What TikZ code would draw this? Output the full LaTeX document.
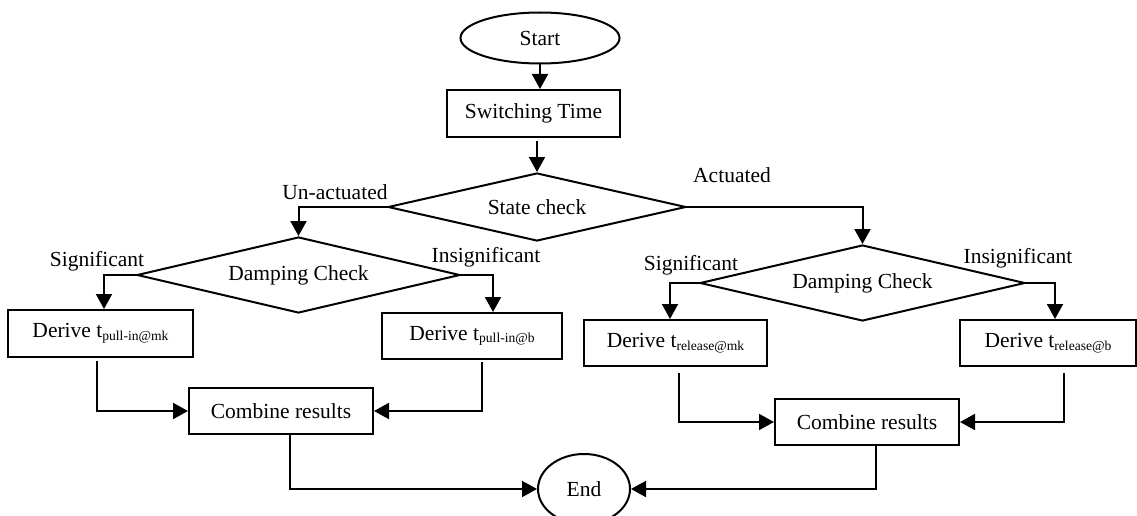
\documentclass[tikz,border=0pt]{standalone}
\usepackage{fontspec}
\setmainfont{Liberation Serif}
\usetikzlibrary{shapes.geometric,arrows.meta,calc}
\newcommand{\sbs}[1]{\raisebox{-2.5pt}{\fontsize{13.6}{14}\selectfont #1}}
\begin{document}
\begin{tikzpicture}[x=1pt,y=-1pt, line width=2pt,
  every node/.style={font=\fontsize{21.5}{24}\selectfont, inner sep=0pt},
  box/.style={draw, rectangle},
  dia/.style={draw, diamond, aspect=4.3},
  oval/.style={draw, ellipse},
  arr/.style={-{Triangle[length=15pt,width=16pt]}}]

\useasboundingbox (0,0) rectangle (1137,516);

% nodes
\node[oval, minimum width=159pt, minimum height=51pt] (start) at (540,38) {Start};
\node[box, minimum width=173pt, minimum height=47pt] (st) at (533.5,113.5) {Switching Time};
\node[dia, minimum width=298pt, minimum height=68pt] (sc) at (537,207) {State check};
\node[dia, minimum width=323pt, minimum height=76pt] (ldc) at (298.5,275) {Damping Check};
\node[dia, minimum width=325pt, minimum height=76pt] (rdc) at (862.5,283) {Damping Check};
\node[box, minimum width=185pt, minimum height=47pt] (b1) at (100.5,333.5) {Derive t\sbs{pull-in@mk}};
\node[box, minimum width=180pt, minimum height=46pt] (b2) at (472,336) {Derive t\sbs{pull-in@b}};
\node[box, minimum width=183pt, minimum height=46pt] (b3) at (675.5,343) {Derive t\sbs{release@mk}};
\node[box, minimum width=176pt, minimum height=46pt] (b4) at (1048,343) {Derive t\sbs{release@b}};
\node[box, minimum width=184pt, minimum height=46pt] (c1) at (281,411) {Combine results};
\node[box, minimum width=184pt, minimum height=46pt] (c2) at (867,422) {Combine results};
\node[oval, minimum width=92pt, minimum height=70pt] (end) at (584,489) {End};

% labels
\node (lun) at (335,192) {Un-actuated};
\node (lac) at (732,175) {Actuated};
\node (lsig1) at (97,261) {Significant};
\node (lins1) at (486,257) {Insignificant};
\node (lsig2) at (691,265) {Significant};
\node (lins2) at (1018,258) {Insignificant};

% connectors
\draw[arr] (start.south) -- (start.south |- st.north);
\draw[arr, shorten <=3pt] (st.south -| sc.north) -- (sc.north);
\draw[arr] (sc.west) -| (ldc.north);
\draw[arr] (sc.east) -| (rdc.north);
\draw[arr] (ldc.west) -| ([xshift=3.5pt]b1.north);
\draw[arr] (ldc.east) -| ([xshift=21pt]b2.north);
\draw[arr] (rdc.west) -| ([xshift=-5.5pt]b3.north);
\draw[arr] (rdc.east) -| ([xshift=7pt]b4.north);
\draw[arr, shorten <=3pt] ([xshift=-3.5pt]b1.south) |- (c1.west);
\draw[arr, shorten <=2pt] ([xshift=10pt]b2.south) |- (c1.east);
\draw[arr, shorten <=6pt] ([xshift=3.5pt]b3.south) |- (c2.west);
\draw[arr, shorten <=6pt] ([xshift=16pt]b4.south) |- (c2.east);
\draw[arr] ([xshift=9pt]c1.south) |- (end.west);
\draw[arr] ([xshift=9pt]c2.south) |- (end.east);
\end{tikzpicture}
\end{document}
